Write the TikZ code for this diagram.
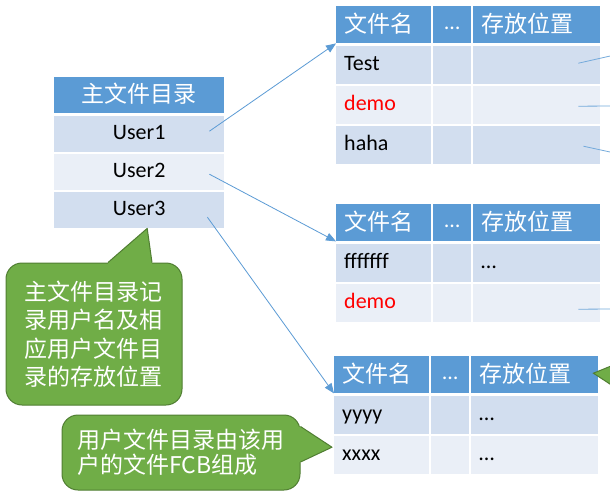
\documentclass[tikz,border=0pt]{standalone}
\usepackage{fontspec}
\setmainfont{Carlito}
\newfontfamily\cjk{Noto Sans CJK SC}
\usepackage{xcolor}
\usetikzlibrary{arrows.meta,positioning}
\definecolor{hdrblue}{HTML}{5B9BD5}
\definecolor{bandA}{HTML}{D2DEEF}
\definecolor{bandB}{HTML}{EAEFF7}
\definecolor{notegreen}{HTML}{70AD47}
\definecolor{noteedge}{HTML}{507E32}

\begin{document}
\begin{tikzpicture}[
    x=1pt, y=-1pt,
    cell/.style={rectangle, anchor=north west, inner ysep=0pt, inner xsep=8pt, minimum height=38pt,
        text height=15pt, text depth=5pt, font=\fontsize{22}{22}\selectfont},
    hdr/.style={cell, fill=hdrblue, text=white, minimum height=37pt},
    band a/.style={cell, fill=bandA},
    band b/.style={cell, fill=bandB},
    col name/.style={text width=79pt, align=left},
    col dots/.style={text width=22pt, align=center},
    col pos/.style={text width=111pt, align=left},
    cn/.style={font=\cjk\fontsize{23}{23}\selectfont, text height=19pt, text depth=4pt},
    link/.style={hdrblue, line width=0.8pt, -{Triangle[length=10pt,width=8pt]}},
    fileline/.style={hdrblue!85, line width=0.8pt},
    note/.style={rectangle, rounded corners=16pt, fill=notegreen, draw=noteedge, line width=1pt,
        text=white, align=left, inner sep=0pt}
]
    \path[use as bounding box, fill=white] (0,0) rectangle (610,500);

    % Master file directory
    \node[hdr, cn, inner xsep=0pt, minimum width=170pt, minimum height=36pt] (mfd) at (54,77) {主文件目录};
    \node[band a, inner xsep=0pt, minimum width=170pt, minimum height=36pt] (mfd-u1) at (54,116) {User1};
    \node[band b, inner xsep=0pt, minimum width=170pt, minimum height=36pt] (mfd-u2) at (54,154) {User2};
    \node[band a, inner xsep=0pt, minimum width=170pt, minimum height=36pt] (mfd-u3) at (54,192) {User3};

    % User file directory 1
    \node[hdr, col name, cn] (ufd1-n0) at (336,6) {文件名};
    \node[hdr, col dots] (ufd1-d0) at (433,6) {…};
    \node[hdr, col pos, cn] (ufd1-p0) at (473,6) {存放位置};
    \node[band a, col name] (ufd1-n1) at (336,46) {Test};
    \node[band a, col dots] (ufd1-d1) at (433,46) {};
    \node[band a, col pos] (ufd1-p1) at (473,46) {};
    \node[band b, col name, text=red] (ufd1-n2) at (336,86) {demo};
    \node[band b, col dots] (ufd1-d2) at (433,86) {};
    \node[band b, col pos] (ufd1-p2) at (473,86) {};
    \node[band a, col name] (ufd1-n3) at (336,126) {haha};
    \node[band a, col dots] (ufd1-d3) at (433,126) {};
    \node[band a, col pos] (ufd1-p3) at (473,126) {};

    % User file directory 2
    \node[hdr, col name, cn] (ufd2-n0) at (336,204) {文件名};
    \node[hdr, col dots] (ufd2-d0) at (433,204) {…};
    \node[hdr, col pos, cn] (ufd2-p0) at (473,204) {存放位置};
    \node[band a, col name] (ufd2-n1) at (336,244) {fffffff};
    \node[band a, col dots] (ufd2-d1) at (433,244) {};
    \node[band a, col pos] (ufd2-p1) at (473,244) {…};
    \node[band b, col name, text=red] (ufd2-n2) at (336,284) {demo};
    \node[band b, col dots] (ufd2-d2) at (433,284) {};
    \node[band b, col pos] (ufd2-p2) at (473,284) {};

    % User file directory 3
    \node[hdr, col name, cn] (ufd3-n0) at (334,356) {文件名};
    \node[hdr, col dots] (ufd3-d0) at (431,356) {…};
    \node[hdr, col pos, cn] (ufd3-p0) at (471,356) {存放位置};
    \node[band a, col name] (ufd3-n1) at (334,396) {yyyy};
    \node[band a, col dots] (ufd3-d1) at (431,396) {};
    \node[band a, col pos] (ufd3-p1) at (471,396) {…};
    \node[band b, col name] (ufd3-n2) at (334,436) {xxxx};
    \node[band b, col dots] (ufd3-d2) at (431,436) {};
    \node[band b, col pos] (ufd3-p2) at (471,436) {…};

    % Links MFD -> UFD
    \draw[link] ([xshift=-15pt,yshift=3pt]mfd-u1.east) -- (ufd1-n0.south west);
    \draw[link] ([xshift=-15pt,yshift=-2pt]mfd-u2.east) -- (ufd2-n0.south west);
    \draw[link] ([xshift=-17pt,yshift=-7pt]mfd-u3.east) -- (ufd3-n0.south west);

    % Links to the files (cut off)
    \coordinate (f1) at (616,54.7);
    \coordinate (f2) at (616,106);
    \coordinate (f3) at (616,153.3);
    \coordinate (f4) at (616,309);
    \draw[fileline] ([xshift=-22pt,yshift=2pt]ufd1-p1.east) -- (f1);
    \draw[fileline] ([xshift=-22pt,yshift=-1pt]ufd1-p2.east) -- (f2);
    \draw[fileline] ([xshift=-17pt,yshift=-1pt]ufd1-p3.east) -- (f3);
    \draw[fileline] ([xshift=-22pt,yshift=-6pt]ufd2-p2.east) -- (f4);

    % Notes
    \node[note, minimum width=176pt, minimum height=142pt, text width=140pt,
        font=\cjk\fontsize{23}{28.5}\selectfont] (note1) at (94,334)
        {主文件目录记\\录用户名及相\\应用户文件目\\录的存放位置};
    \fill[notegreen] ([xshift=14pt]note1.north) -- ([xshift=8pt]mfd-u3.south)
        -- ([xshift=58pt]note1.north) -- ([xshift=58pt,yshift=-3pt]note1.north)
        -- ([xshift=14pt,yshift=-3pt]note1.north) -- cycle;
    \draw[noteedge, line width=1pt, line join=round] ([xshift=14pt]note1.north)
        -- ([xshift=8pt]mfd-u3.south) -- ([xshift=58pt]note1.north);

    \node[note, minimum width=238pt, minimum height=75pt, text width=208pt,
        font=\cjk\fontsize{23}{25}\selectfont] (note2) at (181,452.5)
        {用户文件目录由该用\\户的文件FCB组成};
    \fill[notegreen] ([yshift=26pt]note2.east) -- ([xshift=-2pt,yshift=8pt]ufd3-n2.west)
        -- ([yshift=-9.5pt]note2.east) -- ([xshift=-3pt,yshift=-9.5pt]note2.east)
        -- ([xshift=-3pt,yshift=26pt]note2.east) -- cycle;
    \draw[noteedge, line width=1pt, line join=round] ([yshift=26pt]note2.east)
        -- ([xshift=-2pt,yshift=8pt]ufd3-n2.west) -- ([yshift=-9.5pt]note2.east);

    \fill[notegreen, draw=noteedge, line width=1pt] ([xshift=-5pt,yshift=1.5pt]ufd3-p0.east)
        -- (616,364) -- (616,388) -- cycle;
\end{tikzpicture}
\end{document}
